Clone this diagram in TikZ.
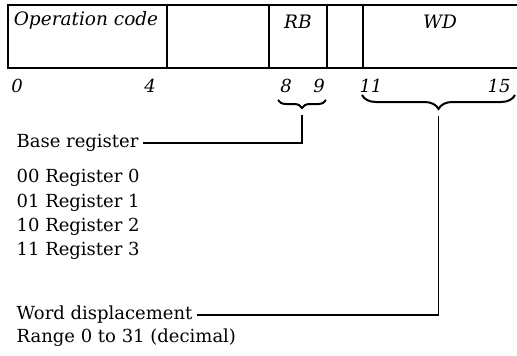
\documentclass[tikz,border=0pt]{standalone}
\usepackage{fontspec}
\setmainfont{DejaVu Serif}
\usepackage{tikz}
\usetikzlibrary{positioning, decorations.pathreplacing}

\tikzset{
	field/.style={font=\fontsize{18.5}{20}\selectfont\itshape, inner sep=0pt},
	bitno/.style={font=\fontsize{18}{20}\selectfont\itshape, inner sep=0pt},
	note/.style={font=\fontsize{18}{21}\selectfont, anchor=west, inner sep=4pt},
	brace/.style={decorate, decoration={brace, mirror, amplitude=#1}, line width=2pt}
}

\begin{document}
\begin{tikzpicture}[x=1pt,y=-1pt,line width=1.3pt]
	\useasboundingbox (0,0) rectangle (517,356);

		% the instruction word
		\draw (517,5) -- (8,5) -- (8,68) -- (517,68);
		\foreach \x in {167, 269, 327, 363}
			\draw (\x,5) -- (\x,68);

		\node[field] (opc) at (86,20) {Operation code};
		\node[field] (rb) at (298,22) {RB};
		\node[field] (wd) at (440,22) {WD};

		% bit numbers
		\node[bitno] (b0) at (17,86) {0};
		\node[bitno] (b4) at (150,86) {4};
		\node[bitno] (b8) at (286,86) {8};
		\node[bitno] (b9) at (319,86) {9};
		\node[bitno] (b11) at (371,86) {11};
		\node[bitno] (b15) at (499,86) {15};

		% braces
		\draw[brace=8pt] (278,100) -- (326,100);
		\draw[brace=14pt] (362,95) -- (515,95);
		\coordinate (rbtip) at (302,110);
		\coordinate (wdtip) at (438.5,110);

		% texts
		\node[note] (base) at (12,143) {Base register};
		\node[note] (r0) at (12,178) {00 Register 0};
		\node[note] (r1) at (12,203) {01 Register 1};
		\node[note] (r2) at (12,227) {10 Register 2};
		\node[note] (r3) at (12,251) {11 Register 3};
		\node[note] (disp) at (12,315) {Word displacement};
		\node[note] (range) at (12,338) {Range 0 to 31 (decimal)};

		\draw[shorten <=5pt] (rbtip) |- (base.east);
		\draw[shorten <=6pt] (wdtip) |- (disp.east);

	\end{tikzpicture}
\end{document}
